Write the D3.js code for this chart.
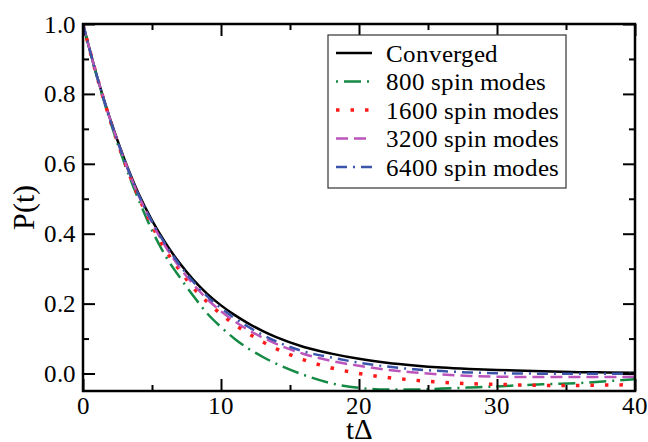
<!DOCTYPE html>
<html>
<head>
<meta charset="utf-8">
<script src="https://cdn.jsdelivr.net/npm/d3@7"></script>
<style>
  @font-face { font-family: "ChartSerif"; src: local("Liberation Serif"), local("LiberationSerif-Regular"), local("Times New Roman"); }
  body { margin: 0; }
  svg text { font-family: "ChartSerif", "Liberation Serif", "Times New Roman", serif !important; }
</style>
</head>
<body>
<script>
// time samples (tΔ)
const times = [0, 1, 2, 3, 4, 5, 6, 7, 8, 9, 10, 11, 12, 13, 14,
  16, 18, 20, 22, 24, 26, 28, 30, 32, 34, 36, 38, 40];

const converged = [1, 0.852, 0.724, 0.613, 0.517, 0.438, 0.372, 0.316, 0.268, 0.228, 0.195, 0.167, 0.143, 0.122, 0.104,
  0.076, 0.057, 0.042, 0.031, 0.023, 0.017, 0.013, 0.010, 0.008, 0.006, 0.004, 0.003, 0.002];
const modes800 = [1, 0.85, 0.718, 0.602, 0.5, 0.41, 0.335, 0.276, 0.222, 0.172, 0.133, 0.099, 0.071, 0.048, 0.028,
  -0.004, -0.028, -0.041, -0.046, -0.046, -0.043, -0.04, -0.037, -0.033, -0.03, -0.027, -0.022, -0.016];
const modes1600 = [1, 0.851, 0.721, 0.607, 0.508, 0.424, 0.352, 0.296, 0.245, 0.205, 0.17, 0.14, 0.114, 0.091, 0.071,
  0.039, 0.016, 0.0, -0.011, -0.019, -0.025, -0.029, -0.031, -0.033, -0.034, -0.034, -0.033, -0.032];
const modes3200 = [1, 0.852, 0.723, 0.61, 0.512, 0.431, 0.362, 0.304, 0.255, 0.213, 0.178, 0.149, 0.124, 0.103, 0.085,
  0.056, 0.036, 0.022, 0.011, 0.003, -0.003, -0.007, -0.009, -0.01, -0.01, -0.01, -0.01, -0.009];
const modes6400 = [1, 0.852, 0.723, 0.611, 0.514, 0.435, 0.368, 0.311, 0.262, 0.221, 0.187, 0.158, 0.133, 0.111, 0.092,
  0.063, 0.046, 0.031, 0.02, 0.012, 0.007, 0.003, 0.001, 0, -0.001, -0.001, -0.001, -0.001];

const seriesNames = ["Converged", "800 spin modes", "1600 spin modes", "3200 spin modes", "6400 spin modes"];
const seriesValues = [converged, modes800, modes1600, modes3200, modes6400];

const xTicks = [0, 10, 20, 30, 40];
const xMinor = [5, 15, 25, 35];
const yTicks = [0, 0.2, 0.4, 0.6, 0.8, 1.0];
const yMinor = [0.1, 0.3, 0.5, 0.7, 0.9];

const styles = [
  { color: "#000000", width: 2.5, dash: null, offset: 0 },
  { color: "#148a45", width: 2.5, dash: "17,6,2,6", offset: 23 },
  { color: "#ff1a1a", width: 3.5, dash: "3.5,11", offset: 0 },
  { color: "#bb55bb", width: 2.5, dash: "12,6", offset: 0 },
  { color: "#3c55ab", width: 2.5, dash: "11,6,2,6", offset: 0 }
];

const W = 648, H = 442;
const pLeft = 83, pRight = 635, pTop = 24, pBottom = 391;
const serif = '"ChartSerif", "Liberation Serif", "Times New Roman", serif';

const svg = d3.select("body").append("svg")
  .attr("width", W).attr("height", H)
  .style("font-family", serif);

const x = d3.scaleLinear().domain([0, 40]).range([pLeft, pRight]);
const y = d3.scaleLinear().domain([-0.05, 1.0]).range([pBottom, pTop]);

svg.append("clipPath").attr("id", "plot")
  .append("rect").attr("x", pLeft).attr("y", pTop)
  .attr("width", pRight - pLeft).attr("height", pBottom - pTop);

const line = d3.line()
  .x((d, i) => x(times[i]))
  .y(d => y(d))
  .curve(d3.curveMonotoneX);

const curves = svg.append("g").attr("clip-path", "url(#plot)");
seriesValues.forEach((vals, k) => {
  const s = styles[k];
  curves.append("path")
    .attr("d", line(vals))
    .attr("fill", "none")
    .attr("stroke", s.color)
    .attr("stroke-width", s.width)
    .attr("stroke-dasharray", s.dash)
    .attr("stroke-dashoffset", s.offset)
    .attr("stroke-linecap", "butt");
});

// tick marks, inward on all four sides (labels drawn separately below)
const axes = [
  [d3.axisBottom(x).tickValues(xTicks).tickSize(-12), `translate(0,${pBottom})`],
  [d3.axisBottom(x).tickValues(xMinor).tickSize(-6), `translate(0,${pBottom})`],
  [d3.axisTop(x).tickValues(xTicks).tickSize(-12), `translate(0,${pTop})`],
  [d3.axisTop(x).tickValues(xMinor).tickSize(-6), `translate(0,${pTop})`],
  [d3.axisLeft(y).tickValues(yTicks).tickSize(-12), `translate(${pLeft},0)`],
  [d3.axisLeft(y).tickValues(yMinor).tickSize(-6), `translate(${pLeft},0)`],
  [d3.axisRight(y).tickValues(yTicks).tickSize(-12), `translate(${pRight},0)`],
  [d3.axisRight(y).tickValues(yMinor).tickSize(-6), `translate(${pRight},0)`]
];
axes.forEach(([ax, tr]) => {
  const g = svg.append("g").attr("transform", tr).call(ax.tickFormat(""));
  g.select(".domain").remove();
  g.selectAll(".tick text").remove();
  g.selectAll(".tick line").attr("stroke", "#000").attr("stroke-width", 2);
});

svg.append("rect")
  .attr("x", pLeft).attr("y", pTop)
  .attr("width", pRight - pLeft).attr("height", pBottom - pTop)
  .attr("fill", "none").attr("stroke", "#000").attr("stroke-width", 2.5);

// tick labels
svg.append("g").selectAll("text").data(xTicks).join("text")
  .attr("x", d => x(d)).attr("y", 414)
  .attr("text-anchor", "middle")
  .style("font-size", "25px")
  .text(d => d);

svg.append("g").selectAll("text").data(yTicks).join("text")
  .attr("x", 76).attr("y", d => y(d) + 8.5)
  .attr("text-anchor", "end")
  .style("font-size", "25px")
  .text(d => d.toFixed(1));

// axis titles
svg.append("text")
  .attr("x", x(20)).attr("y", 439)
  .attr("text-anchor", "middle")
  .style("font-size", "29px")
  .text("tΔ");

svg.append("text")
  .attr("transform", `translate(34,${(pTop + pBottom) / 2}) rotate(-90)`)
  .attr("text-anchor", "middle")
  .style("font-size", "30px")
  .text("P(t)");

// legend
const legend = svg.append("g");
legend.append("rect")
  .attr("x", 328).attr("y", 35)
  .attr("width", 238).attr("height", 153)
  .attr("fill", "#fff").attr("stroke", "#333").attr("stroke-width", 1.2);

seriesNames.forEach((name, k) => {
  const s = styles[k];
  const cy = 53 + k * 28.5;
  legend.append("line")
    .attr("x1", 336).attr("x2", 372)
    .attr("y1", cy).attr("y2", cy)
    .attr("stroke", s.color)
    .attr("stroke-width", s.width)
    .attr("stroke-dasharray", s.dash)
    .attr("stroke-dashoffset", s.offset);
  legend.append("text")
    .attr("x", 386).attr("y", cy + 8.5)
    .style("font-size", "25px")
    .text(name);
});
</script>
</body>
</html>
